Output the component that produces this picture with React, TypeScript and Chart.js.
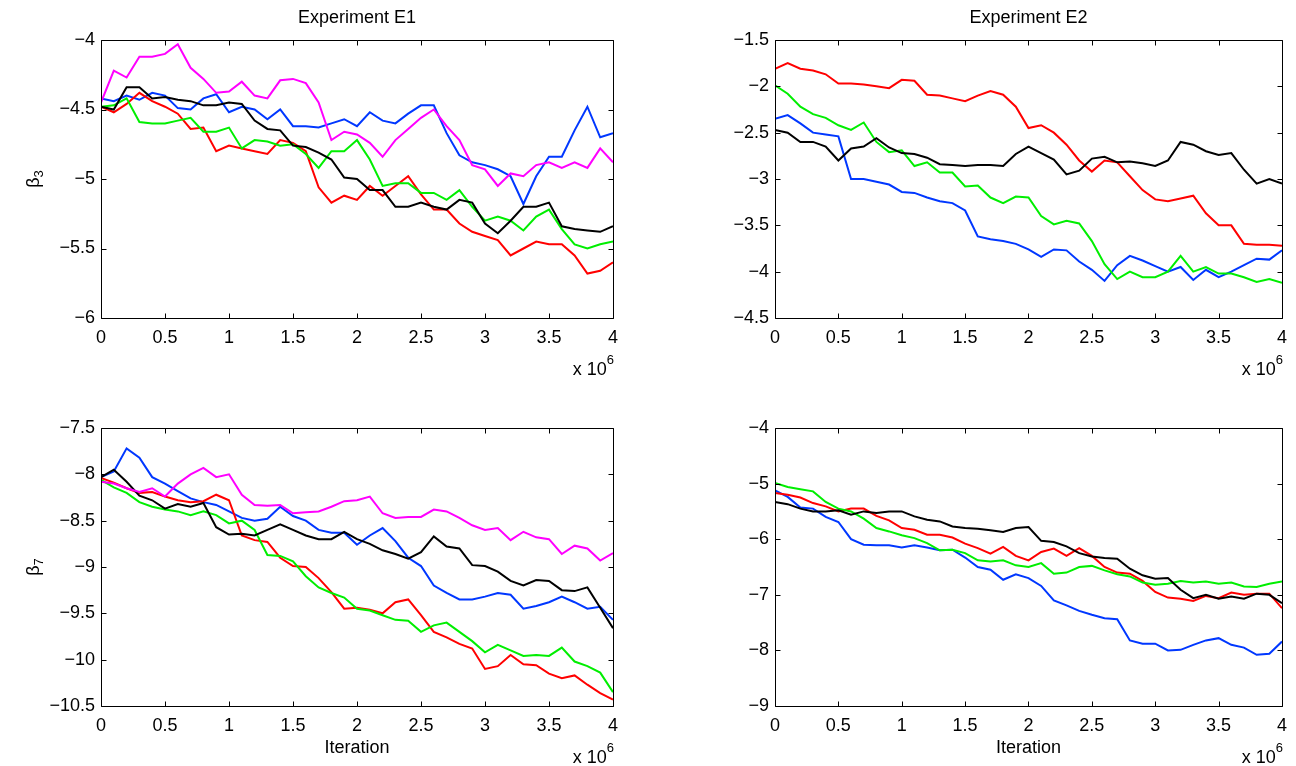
import React, { useEffect, useRef } from "react";
import { Chart, registerables } from "chart.js";

Chart.register(...registerables);

// Iteration (x 10^6)
const iterations = [0, 0.1, 0.2, 0.3, 0.4, 0.5, 0.6, 0.7, 0.8, 0.9, 1, 1.1, 1.2, 1.3, 1.4, 1.5, 1.6, 1.7, 1.8, 1.9, 2, 2.1, 2.2, 2.3, 2.4, 2.5, 2.6, 2.7, 2.8, 2.9, 3, 3.1, 3.2, 3.3, 3.4, 3.5, 3.6, 3.7, 3.8, 3.9, 4];
const xTicks = [0, 0.5, 1, 1.5, 2, 2.5, 3, 3.5, 4];

// Experiment E1, beta_3
const e1b3Blue = [-4.42, -4.44, -4.40, -4.43, -4.38, -4.40, -4.49, -4.50, -4.42, -4.39, -4.52, -4.48, -4.50, -4.57, -4.50, -4.62, -4.62, -4.63, -4.60, -4.57, -4.62, -4.52, -4.58, -4.60, -4.53, -4.47, -4.47, -4.67, -4.83, -4.88, -4.90, -4.93, -4.98, -5.18, -4.98, -4.84, -4.84, -4.65, -4.48, -4.70, -4.67];
const e1b3Red = [-4.48, -4.52, -4.46, -4.38, -4.44, -4.48, -4.53, -4.64, -4.63, -4.80, -4.76, -4.78, -4.80, -4.82, -4.72, -4.74, -4.80, -5.06, -5.17, -5.12, -5.15, -5.05, -5.12, -5.05, -4.98, -5.11, -5.22, -5.22, -5.32, -5.38, -5.41, -5.44, -5.55, -5.50, -5.45, -5.47, -5.47, -5.55, -5.68, -5.66, -5.60];
const e1b3Green = [-4.48, -4.47, -4.42, -4.59, -4.60, -4.60, -4.58, -4.56, -4.66, -4.66, -4.63, -4.78, -4.72, -4.73, -4.76, -4.75, -4.82, -4.92, -4.80, -4.80, -4.72, -4.86, -5.05, -5.03, -5.03, -5.10, -5.10, -5.15, -5.08, -5.20, -5.30, -5.27, -5.30, -5.37, -5.27, -5.22, -5.36, -5.47, -5.50, -5.47, -5.45];
const e1b3Black = [-4.48, -4.50, -4.34, -4.34, -4.42, -4.41, -4.43, -4.44, -4.47, -4.47, -4.45, -4.46, -4.58, -4.64, -4.65, -4.76, -4.77, -4.81, -4.86, -4.99, -5.00, -5.08, -5.08, -5.20, -5.20, -5.17, -5.20, -5.22, -5.15, -5.17, -5.32, -5.39, -5.30, -5.20, -5.20, -5.17, -5.34, -5.36, -5.37, -5.38, -5.34];
const e1b3Magenta = [-4.45, -4.22, -4.27, -4.12, -4.12, -4.10, -4.03, -4.20, -4.28, -4.38, -4.37, -4.30, -4.40, -4.42, -4.29, -4.28, -4.31, -4.45, -4.72, -4.66, -4.68, -4.74, -4.84, -4.72, -4.64, -4.56, -4.50, -4.62, -4.72, -4.90, -4.93, -5.05, -4.96, -4.98, -4.90, -4.88, -4.92, -4.88, -4.92, -4.78, -4.88];

// Experiment E2, beta_3
const e2b3Red = [-1.81, -1.75, -1.81, -1.83, -1.87, -1.97, -1.97, -1.98, -2.00, -2.02, -1.93, -1.94, -2.09, -2.10, -2.13, -2.16, -2.10, -2.05, -2.09, -2.22, -2.45, -2.42, -2.50, -2.63, -2.80, -2.92, -2.80, -2.82, -2.97, -3.12, -3.22, -3.24, -3.21, -3.18, -3.37, -3.50, -3.50, -3.70, -3.71, -3.71, -3.72];
const e2b3Green = [-1.99, -2.08, -2.22, -2.30, -2.34, -2.42, -2.47, -2.39, -2.60, -2.71, -2.69, -2.86, -2.82, -2.93, -2.93, -3.08, -3.07, -3.20, -3.26, -3.19, -3.20, -3.40, -3.49, -3.45, -3.48, -3.67, -3.92, -4.08, -4.00, -4.06, -4.06, -4.00, -3.83, -4.00, -3.95, -4.02, -4.02, -4.06, -4.11, -4.08, -4.12];
const e2b3Blue = [-2.35, -2.31, -2.40, -2.50, -2.52, -2.54, -3.00, -3.00, -3.03, -3.06, -3.14, -3.15, -3.20, -3.24, -3.26, -3.34, -3.62, -3.65, -3.67, -3.70, -3.76, -3.84, -3.76, -3.77, -3.89, -3.98, -4.10, -3.93, -3.83, -3.88, -3.94, -4.00, -3.95, -4.09, -3.98, -4.06, -4.00, -3.93, -3.86, -3.87, -3.77];
const e2b3Black = [-2.47, -2.50, -2.60, -2.60, -2.65, -2.80, -2.67, -2.65, -2.56, -2.66, -2.72, -2.73, -2.77, -2.84, -2.85, -2.86, -2.85, -2.85, -2.86, -2.73, -2.65, -2.72, -2.79, -2.95, -2.91, -2.78, -2.76, -2.82, -2.81, -2.83, -2.86, -2.80, -2.60, -2.63, -2.70, -2.74, -2.72, -2.90, -3.05, -3.00, -3.05];

// Experiment E1, beta_7
const e1b7Blue = [-8.03, -7.97, -7.72, -7.82, -8.03, -8.10, -8.18, -8.26, -8.30, -8.33, -8.40, -8.47, -8.50, -8.48, -8.35, -8.45, -8.50, -8.60, -8.63, -8.63, -8.76, -8.66, -8.58, -8.72, -8.90, -8.99, -9.20, -9.28, -9.35, -9.35, -9.32, -9.28, -9.30, -9.45, -9.42, -9.38, -9.32, -9.38, -9.45, -9.43, -9.57];
const e1b7Black = [-8.03, -7.95, -8.08, -8.23, -8.28, -8.37, -8.32, -8.35, -8.31, -8.57, -8.65, -8.64, -8.66, -8.60, -8.54, -8.60, -8.66, -8.70, -8.70, -8.62, -8.70, -8.75, -8.82, -8.86, -8.91, -8.84, -8.67, -8.78, -8.80, -8.98, -8.99, -9.05, -9.15, -9.20, -9.14, -9.15, -9.25, -9.26, -9.22, -9.44, -9.66];
const e1b7Magenta = [-8.08, -8.10, -8.15, -8.19, -8.15, -8.24, -8.10, -8.00, -7.93, -8.03, -8.00, -8.22, -8.33, -8.34, -8.33, -8.42, -8.41, -8.40, -8.35, -8.29, -8.28, -8.24, -8.42, -8.47, -8.46, -8.46, -8.38, -8.40, -8.47, -8.55, -8.60, -8.58, -8.71, -8.62, -8.68, -8.70, -8.86, -8.77, -8.80, -8.93, -8.85];
const e1b7Red = [-8.04, -8.09, -8.15, -8.20, -8.19, -8.24, -8.28, -8.30, -8.29, -8.22, -8.28, -8.66, -8.71, -8.73, -8.90, -8.99, -9.00, -9.12, -9.27, -9.45, -9.44, -9.46, -9.50, -9.38, -9.35, -9.52, -9.70, -9.76, -9.83, -9.88, -10.10, -10.07, -9.95, -10.05, -10.06, -10.15, -10.20, -10.17, -10.27, -10.36, -10.43];
const e1b7Green = [-8.06, -8.14, -8.20, -8.30, -8.35, -8.38, -8.40, -8.44, -8.40, -8.44, -8.53, -8.50, -8.60, -8.87, -8.88, -8.94, -9.10, -9.22, -9.28, -9.33, -9.45, -9.47, -9.52, -9.57, -9.58, -9.70, -9.63, -9.60, -9.70, -9.80, -9.92, -9.84, -9.90, -9.96, -9.95, -9.96, -9.87, -10.02, -10.07, -10.14, -10.35];

// Experiment E2, beta_7
const e2b7Blue = [-5.12, -5.24, -5.43, -5.45, -5.60, -5.69, -6.00, -6.10, -6.11, -6.11, -6.15, -6.11, -6.15, -6.20, -6.19, -6.33, -6.50, -6.55, -6.73, -6.63, -6.70, -6.84, -7.10, -7.19, -7.29, -7.36, -7.42, -7.44, -7.82, -7.88, -7.88, -8.00, -7.99, -7.90, -7.82, -7.78, -7.90, -7.95, -8.08, -8.06, -7.84];
const e2b7Black = [-5.33, -5.37, -5.45, -5.50, -5.50, -5.48, -5.56, -5.50, -5.53, -5.50, -5.50, -5.59, -5.65, -5.68, -5.77, -5.80, -5.81, -5.84, -5.87, -5.80, -5.78, -6.03, -6.05, -6.13, -6.25, -6.31, -6.34, -6.35, -6.53, -6.65, -6.71, -6.70, -6.91, -7.06, -7.00, -7.07, -7.03, -7.07, -6.98, -7.00, -7.15];
const e2b7Red = [-5.17, -5.20, -5.25, -5.35, -5.41, -5.50, -5.45, -5.45, -5.58, -5.66, -5.80, -5.83, -5.92, -5.92, -5.97, -6.08, -6.16, -6.26, -6.14, -6.30, -6.38, -6.23, -6.17, -6.30, -6.16, -6.30, -6.50, -6.60, -6.62, -6.75, -6.95, -7.05, -7.07, -7.11, -7.02, -7.06, -6.96, -7.00, -6.98, -6.98, -7.24];
const e2b7Green = [-4.99, -5.06, -5.10, -5.14, -5.33, -5.45, -5.50, -5.63, -5.80, -5.86, -5.93, -5.98, -6.07, -6.20, -6.19, -6.25, -6.38, -6.40, -6.38, -6.47, -6.50, -6.43, -6.62, -6.60, -6.50, -6.48, -6.56, -6.63, -6.67, -6.78, -6.82, -6.80, -6.75, -6.78, -6.76, -6.80, -6.78, -6.85, -6.86, -6.80, -6.76];

const BLUE = "#0037ff";
const RED = "#ff0000";
const GREEN = "#00ee00";
const BLACK = "#000000";
const MAGENTA = "#ff00ff";

const FONT = "'Liberation Sans', Arial, Helvetica, sans-serif";

function fmt(v: number, minus: boolean) {
  const n = Math.round(v * 10) / 10;
  const s = Number.isInteger(n) ? String(n) : n.toFixed(1);
  return minus ? s.replace("-", "\u2212") : s;
}

const matlabFrame = {
  id: "matlabFrame",
  afterDraw(chart: any, _args: any, opts: any) {
    const { ctx, chartArea: a } = chart;
    const xs = chart.scales.x;
    const ys = chart.scales.y;
    const L = Math.round(a.left) + 0.5;
    const R = Math.round(a.right) + 0.5;
    const T = Math.round(a.top) + 0.5;
    const B = Math.round(a.bottom) + 0.5;
    ctx.save();
    ctx.strokeStyle = "#000";
    ctx.lineWidth = 1;
    ctx.beginPath();
    ctx.rect(L, T, R - L, B - T);
    xs.ticks.forEach((t: any) => {
      const p = Math.round(xs.getPixelForValue(t.value)) + 0.5;
      ctx.moveTo(p, B);
      ctx.lineTo(p, B - 5);
      ctx.moveTo(p, T);
      ctx.lineTo(p, T + 5);
    });
    ys.ticks.forEach((t: any) => {
      const p = Math.round(ys.getPixelForValue(t.value)) + 0.5;
      ctx.moveTo(L, p);
      ctx.lineTo(L + 5, p);
      ctx.moveTo(R, p);
      ctx.lineTo(R - 5, p);
    });
    ctx.stroke();

    ctx.fillStyle = "#000";
    const cx = (a.left + a.right) / 2;
    if (opts.title) {
      ctx.font = `18px ${FONT}`;
      ctx.textAlign = "center";
      ctx.textBaseline = "middle";
      ctx.fillText(opts.title, cx, a.top - 22);
    }
    if (opts.xLabel) {
      ctx.font = `18px ${FONT}`;
      ctx.textAlign = "center";
      ctx.textBaseline = "middle";
      ctx.fillText(opts.xLabel, cx, a.bottom + 42);
    }
    // exponent note "x 10^6"
    ctx.textAlign = "right";
    ctx.textBaseline = "middle";
    ctx.font = `13px ${FONT}`;
    const sup = opts.exponent;
    const wSup = ctx.measureText(sup).width;
    ctx.fillText(sup, a.right + 1, a.bottom + 42);
    ctx.font = `18px ${FONT}`;
    ctx.fillText(opts.multiplier, a.right + 1 - wSup, a.bottom + 52);

    if (opts.yLabel) {
      ctx.translate(a.left - 68, (a.top + a.bottom) / 2);
      ctx.rotate(-Math.PI / 2);
      ctx.font = `18px ${FONT}`;
      const wb = ctx.measureText(opts.yLabel).width;
      ctx.font = `13px ${FONT}`;
      const ws = ctx.measureText(opts.ySub).width;
      const start = -(wb + ws) / 2;
      ctx.textAlign = "left";
      ctx.textBaseline = "alphabetic";
      ctx.font = `18px ${FONT}`;
      ctx.fillText(opts.yLabel, start, 6);
      ctx.font = `13px ${FONT}`;
      ctx.fillText(opts.ySub, start + wb, 10);
    }
    ctx.restore();
  },
};

type Series = { color: string; values: number[] };

type PanelProps = {
  canvasLeft: number;
  canvasTop: number;
  area: { left: number; top: number; right: number; bottom: number };
  yMin: number;
  yMax: number;
  yStep: number;
  series: Series[];
  title?: string;
  yLabel?: string;
  ySub?: string;
  xLabel?: string;
};

const CW = 648;
const CH = 383;

function Panel(p: PanelProps) {
  const ref = useRef<HTMLCanvasElement | null>(null);
  useEffect(() => {
    if (!ref.current) return;
    const yWidth = p.area.left - p.canvasLeft;
    const padTop = p.area.top - p.canvasTop;
    const padRight = p.canvasLeft + CW - p.area.right;
    const xHeight = p.canvasTop + CH - p.area.bottom;
    const chart = new Chart(ref.current, {
      type: "line",
      data: {
        datasets: p.series.map((s) => ({
          data: iterations.map((x, i) => ({ x, y: s.values[i] })),
          borderColor: s.color,
          backgroundColor: s.color,
          borderWidth: 2,
          pointRadius: 0,
          tension: 0,
          fill: false,
        })),
      },
      options: {
        animation: false,
        responsive: false,
        maintainAspectRatio: false,
        events: [],
        layout: { padding: { left: 0, top: padTop, right: padRight, bottom: 0 } },
        plugins: {
          legend: { display: false },
          tooltip: { enabled: false },
          title: { display: false },
          matlabFrame: {
            title: p.title,
            xLabel: p.xLabel,
            yLabel: p.yLabel,
            ySub: p.ySub,
            multiplier: "x 10",
            exponent: "6",
          },
        } as any,
        scales: {
          x: {
            type: "linear",
            min: 0,
            max: 4,
            afterBuildTicks: (scale: any) => {
              scale.ticks = xTicks.map((v) => ({ value: v }));
            },
            afterFit: (scale: any) => {
              scale.height = xHeight;
            },
            grid: { display: false, drawTicks: false },
            border: { display: false },
            ticks: {
              autoSkip: false,
              maxRotation: 0,
              padding: 9,
              color: "#000",
              font: { family: FONT, size: 18 },
              callback: (v: any) => fmt(Number(v), false),
            },
          },
          y: {
            type: "linear",
            min: p.yMin,
            max: p.yMax,
            afterFit: (scale: any) => {
              scale.width = yWidth;
            },
            grid: { display: false, drawTicks: false },
            border: { display: false },
            ticks: {
              stepSize: p.yStep,
              autoSkip: false,
              padding: 6,
              color: "#000",
              font: { family: FONT, size: 18 },
              callback: (v: any) => fmt(Number(v), true),
            },
          },
        },
      },
      plugins: [matlabFrame],
    });
    return () => chart.destroy();
  }, []);
  return (
    <canvas
      ref={ref}
      width={CW}
      height={CH}
      style={{ position: "absolute", left: p.canvasLeft, top: p.canvasTop, width: CW, height: CH }}
    />
  );
}

export default function App() {
  return (
    <div style={{ position: "absolute", left: 0, top: 0, width: 1296, height: 766, background: "#fff", overflow: "hidden" }}>
      <Panel
        canvasLeft={0}
        canvasTop={0}
        area={{ left: 101, top: 40, right: 613, bottom: 318 }}
        yMin={-6}
        yMax={-4}
        yStep={0.5}
        title="Experiment E1"
        yLabel="β"
        ySub="3"
        series={[
          { color: MAGENTA, values: e1b3Magenta },
          { color: BLACK, values: e1b3Black },
          { color: GREEN, values: e1b3Green },
          { color: RED, values: e1b3Red },
          { color: BLUE, values: e1b3Blue },
        ]}
      />
      <Panel
        canvasLeft={648}
        canvasTop={0}
        area={{ left: 775, top: 40, right: 1287, bottom: 318 }}
        yMin={-4.5}
        yMax={-1.5}
        yStep={0.5}
        title="Experiment E2"
        series={[
          { color: BLACK, values: e2b3Black },
          { color: GREEN, values: e2b3Green },
          { color: RED, values: e2b3Red },
          { color: BLUE, values: e2b3Blue },
        ]}
      />
      <Panel
        canvasLeft={0}
        canvasTop={383}
        area={{ left: 101, top: 428, right: 613, bottom: 706 }}
        yMin={-10.5}
        yMax={-7.5}
        yStep={0.5}
        yLabel="β"
        ySub="7"
        xLabel="Iteration"
        series={[
          { color: MAGENTA, values: e1b7Magenta },
          { color: BLACK, values: e1b7Black },
          { color: GREEN, values: e1b7Green },
          { color: RED, values: e1b7Red },
          { color: BLUE, values: e1b7Blue },
        ]}
      />
      <Panel
        canvasLeft={648}
        canvasTop={383}
        area={{ left: 775, top: 428, right: 1287, bottom: 706 }}
        yMin={-9}
        yMax={-4}
        yStep={1}
        xLabel="Iteration"
        series={[
          { color: BLACK, values: e2b7Black },
          { color: GREEN, values: e2b7Green },
          { color: RED, values: e2b7Red },
          { color: BLUE, values: e2b7Blue },
        ]}
      />
    </div>
  );
}
